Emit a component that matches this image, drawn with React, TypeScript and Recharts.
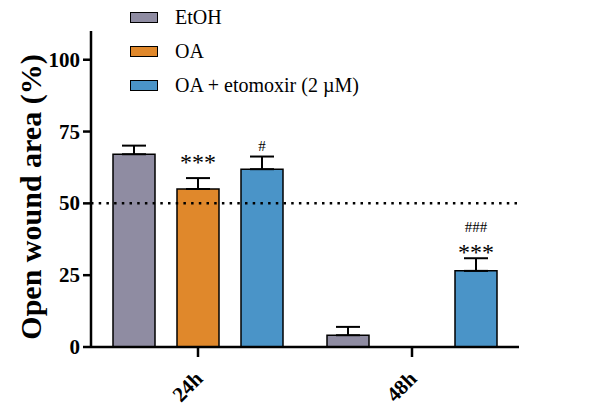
import React from 'react';
import { BarChart, Bar, XAxis, YAxis, ErrorBar, ReferenceLine, LabelList } from 'recharts';

const timepoints = ['24h', '48h'];
const etohMean = [67.1, 4.1];
const etohSem = [3.0, 2.9];
const oaMean = [55.0, 0];
const oaSem = [3.8, 0];
const etoMean = [61.9, 26.5];
const etoSem = [4.4, 4.4];
// significance marks, listed bottom to top
const oaMarks = [['***'], []];
const etoMarks = [['#'], ['***', '###']];
const yTicks = [0, 25, 50, 75, 100];

const GREY = '#8f8ca2';
const ORANGE = '#e0882b';
const BLUE = '#4a94c8';
const FONT = 'Liberation Serif';

const data = timepoints.map((t, i) => ({
  time: t,
  etoh: etohMean[i],
  etohErr: [0, etohSem[i]],
  oa: oaMean[i],
  oaErr: [0, oaSem[i]],
  eto: etoMean[i],
  etoErr: [0, etoSem[i]],
}));

const legendItems = [
  { label: 'EtOH', color: GREY },
  { label: 'OA', color: ORANGE },
  { label: 'OA + etomoxir (2 \u00b5M)', color: BLUE },
];

const LegendBox = () => (
  <div style={{ position: 'absolute', left: 130, top: 0, fontFamily: FONT, fontSize: 20, color: '#000' }}>
    {legendItems.map((it) => (
      <div key={it.label} style={{ display: 'flex', alignItems: 'center', height: 34 }}>
        <div style={{ width: 26, height: 9, background: it.color, border: '1.5px solid #000', marginRight: 17 }} />
        <span>{it.label}</span>
      </div>
    ))}
  </div>
);

const makeMarks = (marks: string[][], sem: number[]) => (props: any) => {
  const { x, y, width, height, index, value } = props;
  const lines = marks[index] || [];
  if (!lines.length || !value) return null;
  const errTop = y - (sem[index] / value) * height;
  const cx = x + width / 2;
  // lone star marks sit a little higher in the original
  let base = errTop - 6 - (lines.length === 1 && lines[0].startsWith('*') ? 10 : 0);
  return (
    <g>
      {lines.map((s, k) => {
        const isStar = s.startsWith('*');
        const el = (
          <text key={k} x={cx} y={isStar ? base + 8 : base} textAnchor="middle"
            style={{ fontFamily: FONT, fontSize: isStar ? 24 : 15 }} fill="#000">
            {s}
          </text>
        );
        base -= isStar ? 20 : 18;
        return el;
      })}
    </g>
  );
};

const XTick = (props: any) => {
  const { x, y, payload } = props;
  return (
    <text x={x + 6} y={y + 21} transform={`rotate(-45 ${x + 6} ${y + 21})`} textAnchor="end"
      style={{ fontFamily: FONT, fontWeight: 'bold', fontSize: 21 }} fill="#000">
      {payload.value}
    </text>
  );
};

const YTick = (props: any) => {
  const { x, y, payload } = props;
  return (
    <text x={x} y={y + 7} textAnchor="end"
      style={{ fontFamily: FONT, fontWeight: 'bold', fontSize: 21 }} fill="#000">
      {payload.value}
    </text>
  );
};

const YLabel = (props: any) => {
  const { viewBox } = props;
  const cy = viewBox.y + viewBox.height / 2 + 8;
  return (
    <text x={41} y={cy} transform={`rotate(-90 41 ${cy})`} textAnchor="middle"
      style={{ fontFamily: FONT, fontWeight: 'bold', fontSize: 30 }} fill="#000">
      Open wound area (%)
    </text>
  );
};

const App: React.FC = () => {
  return (
    <div style={{ position: 'absolute', left: 0, top: 0, background: '#fff' }}>
      <BarChart width={610} height={407} data={data} margin={{ top: 31, right: 91, bottom: 0, left: 0 }}
        barGap={22} barCategoryGap={22}>
        <XAxis dataKey="time" height={60} tickSize={10} tick={<XTick />} interval={0}
          axisLine={{ stroke: '#000', strokeWidth: 2.5 }} tickLine={{ stroke: '#000', strokeWidth: 2.5 }} />
        <YAxis width={91} domain={[0, 110]} ticks={yTicks} interval={0} tickSize={8} tickMargin={3}
          axisLine={{ stroke: '#000', strokeWidth: 2.5 }} tickLine={{ stroke: '#000', strokeWidth: 2.5 }}
          tick={<YTick />} label={<YLabel />} />
        <ReferenceLine y={50} stroke="#000" strokeWidth={2.5} strokeDasharray="2.5 5.2" />
        <Bar dataKey="etoh" fill={GREY} stroke="#000" strokeWidth={1.5} barSize={42} isAnimationActive={false}>
          <ErrorBar dataKey="etohErr" direction="y" width={12} stroke="#000" strokeWidth={2} />
        </Bar>
        <Bar dataKey="oa" fill={ORANGE} stroke="#000" strokeWidth={1.5} barSize={42} isAnimationActive={false}>
          <ErrorBar dataKey="oaErr" direction="y" width={12} stroke="#000" strokeWidth={2} />
          <LabelList dataKey="oa" content={makeMarks(oaMarks, oaSem)} />
        </Bar>
        <Bar dataKey="eto" fill={BLUE} stroke="#000" strokeWidth={1.5} barSize={42} isAnimationActive={false}>
          <ErrorBar dataKey="etoErr" direction="y" width={12} stroke="#000" strokeWidth={2} />
          <LabelList dataKey="eto" content={makeMarks(etoMarks, etoSem)} />
        </Bar>
      </BarChart>
      <LegendBox />
    </div>
  );
};

export default App;
